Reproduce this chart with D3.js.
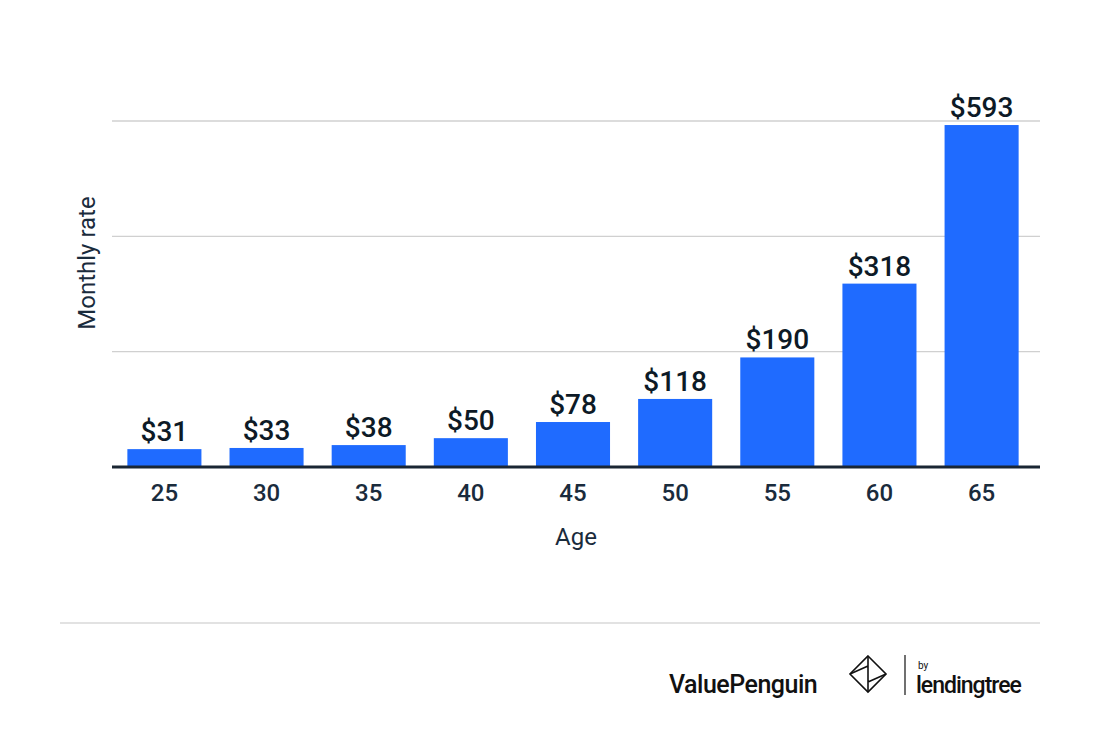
<!DOCTYPE html>
<html><head><meta charset="utf-8">
<script src="https://cdn.jsdelivr.net/npm/d3@7"></script>
<style>body{margin:0;background:#fff}text{font-family:Roboto,sans-serif}</style>
</head><body><svg id="c" width="1100" height="732"></svg>
<script>
const ages = ["25","30","35","40","45","50","55","60","65"];
const rates = [31,33,38,50,78,118,190,318,593];
const gridTicks = [200,400,600];
const svg = d3.select("#c");
const x = d3.scaleBand().domain(ages).range([110,1036]).paddingInner(0.275).paddingOuter(0.17);
const y = d3.scaleLinear().domain([0,600]).range([467,121]);
svg.selectAll(".g").data(gridTicks).join("line")
  .attr("x1",112).attr("x2",1040).attr("y1",d=>y(d)).attr("y2",d=>y(d))
  .attr("stroke","#d0d0d0").attr("stroke-width",1.3);
svg.selectAll(".b").data(rates).join("rect")
  .attr("x",(d,i)=>x(ages[i])).attr("width",x.bandwidth())
  .attr("y",d=>y(d)).attr("height",d=>y(0)-y(d)).attr("fill","#1f6bff");
svg.selectAll(".l").data(rates).join("text")
  .attr("x",(d,i)=>x(ages[i])+x.bandwidth()/2).attr("y",d=>y(d)-8)
  .attr("text-anchor","middle").attr("font-size",28).attr("font-weight",500)
  .attr("fill","#0d1a26").text(d=>"$"+d);
svg.append("line").attr("x1",112).attr("x2",1040).attr("y1",467).attr("y2",467)
  .attr("stroke","#1a2633").attr("stroke-width",3);
const ax = svg.append("g").attr("transform","translate(0,467)")
  .call(d3.axisBottom(x).tickSize(0).tickPadding(17));
ax.select(".domain").remove();
ax.selectAll("text").attr("font-size",24).attr("font-weight",500).attr("fill","#1a2b3c").attr("font-family","Roboto");
svg.append("text").attr("x",576).attr("y",545).attr("text-anchor","middle")
  .attr("font-size",24).attr("fill","#1a2b3c").text("Age");
svg.append("text").attr("transform","translate(95,263) rotate(-90)").attr("text-anchor","middle")
  .attr("font-size",24).attr("fill","#1a2b3c").text("Monthly rate");
svg.append("line").attr("x1",60).attr("x2",1040).attr("y1",623).attr("y2",623)
  .attr("stroke","#d8d8d8").attr("stroke-width",1.3);
svg.append("text").attr("x",669).attr("y",693).attr("font-size",25).attr("font-weight",500)
  .attr("fill","#111").attr("letter-spacing",-0.5).text("ValuePenguin");
const ic = svg.append("g").attr("transform","translate(868,674)").attr("fill","none").attr("stroke","#111").attr("stroke-width",1.6);
ic.append("path").attr("d","M0,-18 L18,0 L0,18 L-18,0 Z");
ic.append("path").attr("d","M0,-18 L0,18 M-18,0 L0,-8 M0,8 L18,0");
svg.append("line").attr("x1",905).attr("x2",905).attr("y1",655).attr("y2",695).attr("stroke","#111").attr("stroke-width",1.2);
svg.append("text").attr("x",918).attr("y",669).attr("font-size",10).attr("fill","#111").text("by");
svg.append("text").attr("x",916).attr("y",693).attr("font-size",23).attr("font-weight",500).attr("letter-spacing",-1)
  .attr("fill","#111").text("lendingtree");
</script></body></html>
